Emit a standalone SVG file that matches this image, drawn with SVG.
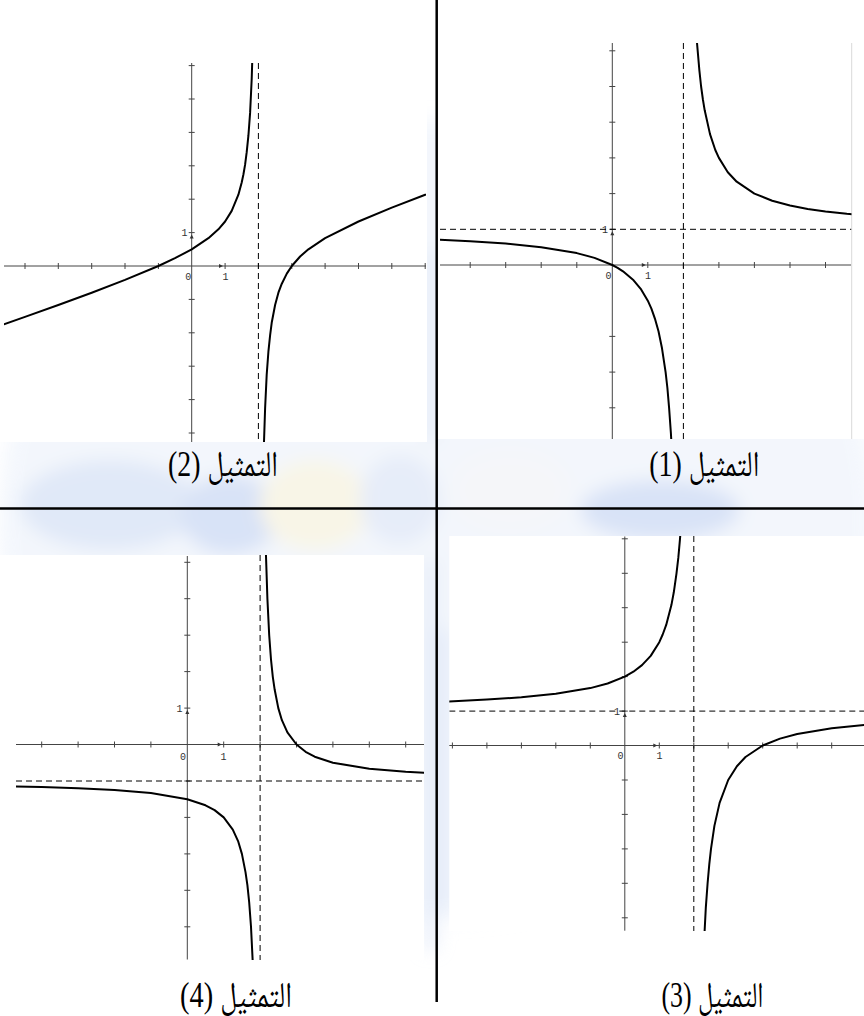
<svg xmlns="http://www.w3.org/2000/svg" width="864" height="1016" viewBox="0 0 864 1016">
<style>
.axis{stroke:#444;stroke-width:1;fill:none}
.tick{stroke:#444;stroke-width:1;fill:none}
.asym{stroke:#000;stroke-width:1;stroke-dasharray:6 4;fill:none}
.curve{stroke:#000;stroke-width:2;fill:none;stroke-linejoin:round;stroke-linecap:round}
.arr{fill:#333}
.num{font-family:"Liberation Mono","DejaVu Sans Mono",monospace;font-size:10px;fill:#333;text-anchor:middle}
.lbl{font-family:"Liberation Serif","Noto Naskh Arabic","Noto Sans Arabic","DejaVu Sans",serif;font-size:36px;fill:#000;text-anchor:middle}
.div{stroke:#000;stroke-width:2.5;fill:none}
.plot{fill:#fff}
</style>
<defs>
<filter id="soft" x="-30%" y="-30%" width="160%" height="160%"><feGaussianBlur stdDeviation="9"/></filter>
<clipPath id="c2"><rect x="4" y="63" width="422" height="379"/></clipPath>
<clipPath id="c1"><rect x="440" y="43" width="411.5" height="396"/></clipPath>
<clipPath id="c4"><rect x="16" y="555" width="408" height="405"/></clipPath>
<clipPath id="c3"><rect x="449.3" y="536" width="414.7" height="395"/></clipPath>
</defs>
<rect x="0" y="0" width="864" height="1016" fill="#fff"/>
<g id="watermark" opacity="0.5" filter="url(#soft)">
<ellipse cx="437" cy="520" rx="437" ry="400" fill="#e8effa"/>
<ellipse cx="110" cy="505" rx="90" ry="45" fill="#c3d4f2"/>
<ellipse cx="230" cy="515" rx="50" ry="40" fill="#b3c8f0"/>
<ellipse cx="315" cy="505" rx="55" ry="45" fill="#f3edd0"/>
<ellipse cx="400" cy="500" rx="40" ry="45" fill="#cfdcf4"/>
<ellipse cx="510" cy="490" rx="60" ry="40" fill="#eceff5"/>
<ellipse cx="660" cy="510" rx="80" ry="30" fill="#b3c8f0"/>
<rect x="425" y="250" width="12" height="190" fill="#c9d8f3"/>
<rect x="424" y="560" width="13" height="390" fill="#cfdcf4"/>
<rect x="437" y="630" width="12" height="280" fill="#c9d8f3"/>
</g>

<g id="graph2">
<rect class="plot" x="0" y="0" width="427" height="442"/>
<line class="axis" x1="4" y1="266" x2="426" y2="266"/>
<line class="axis" x1="191.7" y1="63" x2="191.7" y2="442"/>
<path class="tick" d="M25,263v6M58.3,263v6M91.7,263v6M125,263v6M158.4,263v6M225.1,263v6M258.4,263v6M291.8,263v6M325.1,263v6M358.5,263v6M391.8,263v6M425.2,263v6M188.7,65.6h6M188.7,99h6M188.7,132.4h6M188.7,165.8h6M188.7,199.2h6M188.7,232.6h6M188.7,299.4h6M188.7,332.8h6M188.7,366.2h6M188.7,399.6h6M188.7,433h6"/>
<polygon class="arr" points="219,264 223,266 219,268"/>
<polygon class="arr" points="189.7,238.6 191.7,234.6 193.7,238.6"/>
<text class="num" x="188.2" y="279.5">0</text>
<text class="num" x="225.5" y="279.5">1</text>
<text class="num" x="184.5" y="236.3">1</text>
<g clip-path="url(#c2)">
<line class="asym" x1="258.4" y1="63" x2="258.4" y2="442"/>
<polyline class="curve" points="3.9,324.3 25,316.9 58.3,305 91.7,292.7 125,279.9 158.4,266 175,258.2 191.7,249.3 208.4,238.2 218.4,229.3 225.1,221.5 231.7,210.9 238.4,194.7 241.7,182.5 243.4,174.5 245.1,164.7 246.7,152.2 248.4,135.7 250.1,112.9 251.7,79 253.4,22.7"/>
<polyline class="curve" points="263.4,464.7 264,442 265.1,408.5 266.7,374.6 268.4,351.7 270.1,335.3 271.7,322.8 275.1,305 278.4,292.7 281.8,283.7 286.8,273.6 291.8,266 300.1,256.5 308.4,249.3 325.1,238.2 358.5,221.5 391.8,207.6 425.2,194.8 435.2,191"/>
</g>
<text class="lbl" x="223" y="476" direction="rtl" textLength="110" lengthAdjust="spacingAndGlyphs">التمثيل (2)</text>
</g>

<g id="graph1">
<rect class="plot" x="437" y="0" width="427" height="439"/>
<line x1="851.7" y1="43" x2="851.7" y2="439" stroke="#d9d9d9" stroke-width="1"/>
<line class="axis" x1="440" y1="265" x2="851" y2="265"/>
<line class="axis" x1="612.3" y1="43" x2="612.3" y2="439"/>
<path class="tick" d="M470.2,262v6M505.7,262v6M541.2,262v6M576.8,262v6M647.8,262v6M683.4,262v6M718.9,262v6M754.4,262v6M790,262v6M825.5,262v6M609.3,50.8h6M609.3,86.5h6M609.3,122.2h6M609.3,157.9h6M609.3,193.6h6M609.3,229.3h6M609.3,336.4h6M609.3,372.1h6M609.3,407.8h6"/>
<polygon class="arr" points="641.8,263 645.8,265 641.8,267"/>
<polygon class="arr" points="610.3,235.3 612.3,231.3 614.3,235.3"/>
<text class="num" x="608.5" y="279">0</text>
<text class="num" x="648" y="279">1</text>
<text class="num" x="605" y="233">1</text>
<g clip-path="url(#c1)">
<line class="asym" x1="683.4" y1="43" x2="683.4" y2="439"/>
<line class="asym" x1="440" y1="229.3" x2="851.5" y2="229.3"/>
<polyline class="curve" points="435,239.5 470.2,241.2 505.7,243.6 541.2,247.2 576.8,253.1 594.5,257.9 612.3,265 617.6,267.9 623,271.3 633.6,280.3 640.7,288.8 647.8,300.7 651.4,308.6 654.9,318.6 658.5,331.3 662,348.3 665.6,372.1 667.4,388 669.1,407.8 670.9,433.3 671.6,445.7"/>
<polyline class="curve" points="696.5,36.3 697,42.9 699.4,70.6 701.1,86.5 702.9,99.5 704.7,110.3 710,134.1 715.3,150 718.9,157.9 727.8,172.2 736.7,181.7 754.4,193.6 772.2,200.7 790,205.5 807.7,208.9 825.5,211.5 846.8,213.8 861,215"/>
</g>
<text class="lbl" x="704.3" y="476" direction="rtl" textLength="110" lengthAdjust="spacingAndGlyphs">التمثيل (1)</text>
</g>

<g id="graph4">
<rect class="plot" x="0" y="555" width="424" height="405"/>
<line class="axis" x1="16" y1="744.5" x2="424" y2="744.5"/>
<line class="axis" x1="187.3" y1="556" x2="187.3" y2="959.5"/>
<path class="tick" d="M41.7,741.5v6M78.1,741.5v6M114.5,741.5v6M150.9,741.5v6M223.7,741.5v6M260.1,741.5v6M296.5,741.5v6M332.9,741.5v6M369.3,741.5v6M405.7,741.5v6M184.3,562.3h6M184.3,598.7h6M184.3,635.2h6M184.3,671.6h6M184.3,708.1h6M184.3,781h6M184.3,817.4h6M184.3,853.9h6M184.3,890.3h6M184.3,926.8h6"/>
<polygon class="arr" points="217.7,742.5 221.7,744.5 217.7,746.5"/>
<polygon class="arr" points="185.3,714 187.3,710 189.3,714"/>
<text class="num" x="183" y="760">0</text>
<text class="num" x="223.5" y="760">1</text>
<text class="num" x="179.5" y="711.7">1</text>
<g clip-path="url(#c4)">
<line class="asym" x1="260.1" y1="555" x2="260.1" y2="960"/>
<line class="asym" x1="16" y1="781" x2="424" y2="781"/>
<polyline class="curve" points="10,786.3 41.7,787 78.1,788.2 114.5,790.1 150.9,793.1 187.3,799.2 205.5,805.3 214.6,810.1 223.7,817.4 232.8,829.6 238.3,841.7 241.9,853.9 245.5,872.1 247.4,885.1 249.2,902.5 251,926.8 252.8,963.2 253.2,972.8"/>
<polyline class="curve" points="265.6,537.9 265.9,553.1 267.4,598.7 269.2,635.2 271,659.5 272.8,676.8 274.7,689.8 278.3,708.1 281.9,720.2 287.4,732.4 296.5,744.5 305.6,751.8 314.7,756.7 332.9,762.7 369.3,768.8 405.7,771.8 430,773.2"/>
</g>
<text class="lbl" x="236" y="1007" direction="rtl" textLength="112" lengthAdjust="spacingAndGlyphs">التمثيل (4)</text>
</g>

<g id="graph3">
<rect class="plot" x="449.3" y="536" width="414.7" height="395"/>
<line class="axis" x1="449.3" y1="745.5" x2="864" y2="745.5"/>
<line class="axis" x1="624.8" y1="536.5" x2="624.8" y2="930.7"/>
<path class="tick" d="M452.4,742.5v6M486.9,742.5v6M521.4,742.5v6M555.8,742.5v6M590.3,742.5v6M659.3,742.5v6M693.8,742.5v6M728.2,742.5v6M762.7,742.5v6M797.2,742.5v6M831.7,742.5v6M621.8,538.8h6M621.8,573.3h6M621.8,607.7h6M621.8,642.2h6M621.8,676.6h6M621.8,711.1h6M621.8,780h6M621.8,814.4h6M621.8,848.9h6M621.8,883.3h6M621.8,917.8h6"/>
<polygon class="arr" points="653.3,743.5 657.3,745.5 653.3,747.5"/>
<polygon class="arr" points="622.8,717 624.8,713 626.8,717"/>
<text class="num" x="620.5" y="759">0</text>
<text class="num" x="659.5" y="759">1</text>
<text class="num" x="617" y="714.6">1</text>
<g clip-path="url(#c3)">
<line class="asym" x1="693.8" y1="536" x2="693.8" y2="931"/>
<line class="asym" x1="449.3" y1="711.1" x2="864" y2="711.1"/>
<polyline class="curve" points="442,701.6 448.9,701.4 486.9,699.6 521.4,697.3 555.8,693.8 590.3,688.1 607.6,683.5 624.8,676.6 633.4,671.7 642,665.1 650.7,655.9 659.3,642.2 662.7,634.5 666.2,624.9 671.4,605.1 673.8,592.3 676.5,573.3 678.3,557.9 680,538.8 680.7,529.7"/>
<polyline class="curve" points="704.1,940.7 704.5,933.3 705.8,907.9 707.6,883.3 709.3,864.2 711,848.9 714.4,825.9 719.6,802.9 728.2,780 736.9,766.2 745.5,757 762.7,745.5 780,738.6 797.2,734 831.7,728.3 866.2,724.8 876.5,724.1"/>
</g>
<text class="lbl" x="712.5" y="1007" direction="rtl" textLength="102" lengthAdjust="spacingAndGlyphs">التمثيل (3)</text>
</g>

<g id="dividers">
<line class="div" x1="436.7" y1="0" x2="436.7" y2="1002"/>
<line class="div" x1="0" y1="508.5" x2="864" y2="508.5"/>
</g>
</svg>
